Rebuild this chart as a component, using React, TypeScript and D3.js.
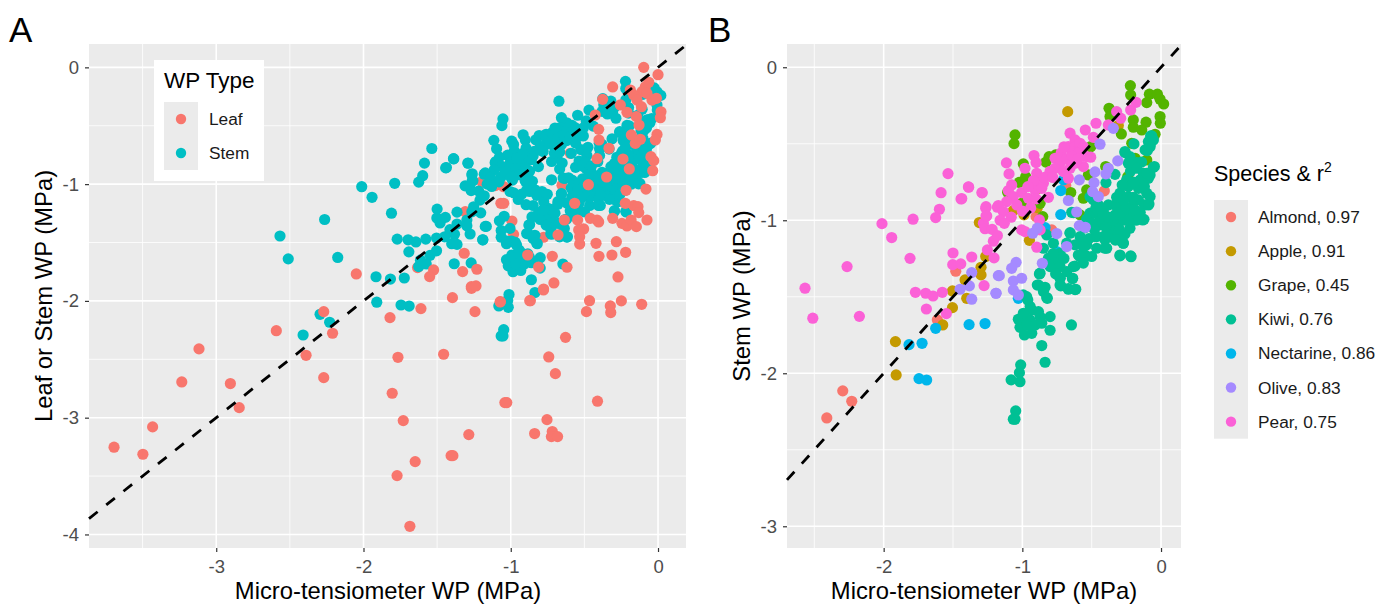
import React, { useEffect, useRef } from "react";
import * as d3 from "d3";

type Pt = [number, number];

const FONT = "'Liberation Sans', Arial, sans-serif";

const almond: Pt[] = [
  [-1.48, -1.333], [-1.613, -1.651], [-2.295, -2.115], [-2.23, -2.183], [-2.41, -2.292],
  [-0.409, -0.808], [-0.687, -0.773], [-0.901, -0.976], [-0.788, -1.063],
];

const apple: Pt[] = [
  [-1.31, -1.015], [-1.264, -1.237], [-1.298, -1.307], [-1.298, -1.357], [-1.413, -1.39],
  [-1.504, -1.462], [-1.401, -1.51], [-1.504, -1.571], [-1.574, -1.684], [-1.915, -1.793],
  [-1.91, -2.011], [-0.673, -0.29], [-0.308, -0.381], [-0.793, -0.708], [-0.892, -0.795],
  [-1.065, -0.937], [-0.988, -0.965], [-0.892, -0.917], [-0.949, -1.131],
];

const grape: Pt[] = [
  [-0.221, -0.12], [-0.219, -0.181], [-0.084, -0.176], [-0.026, -0.176], [-0.103, -0.231],
  [-0.007, -0.209], [0.019, -0.24], [-0.375, -0.268], [-0.368, -0.322], [-0.007, -0.322],
  [-0.005, -0.366], [-0.2, -0.344], [-0.2, -0.392], [-0.108, -0.359], [-0.139, -0.41],
  [-0.043, -0.438], [-0.286, -0.436], [-0.211, -0.497], [-0.103, -0.606], [-0.187, -0.595],
  [-1.053, -0.442], [-1.06, -0.499], [-0.807, -0.584], [-0.76, -0.573], [-0.993, -0.632],
  [-0.976, -0.715], [-1.021, -0.752], [-1.106, -0.817], [-1.005, -0.889], [-0.507, -0.519],
  [-0.399, -0.649], [-0.524, -0.704], [-0.56, -0.856], [-0.536, -0.802], [-0.651, -0.819],
  [-0.24, -0.715], [-0.584, -0.965], [-0.872, -0.889], [-0.853, -0.976], [-0.83, -0.62],
];

const nectarine: Pt[] = [
  [-1.625, -1.706], [-1.817, -1.813], [-1.723, -1.804], [-1.384, -1.682], [-1.269, -1.675],
  [-1.745, -2.035], [-1.69, -2.044], [-0.723, -0.806], [-0.723, -0.963], [-0.836, -1.048],
  [-0.632, -0.595], [-0.704, -0.736], [-1.029, -1.51], [-0.752, -1.205],
];

const kiwi: Pt[] = [
  [-1.012, -1.945], [-1.021, -1.996], [-1.081, -2.043], [-1.017, -2.055], [-1.048, -2.246],
  [-1.065, -2.3], [-1.053, -2.3], [-0.836, -1.928], [-0.86, -1.819], [-0.8, -1.719],
  [-0.646, -1.684], [-0.8, -1.63], [-0.985, -1.75], [-0.932, -1.739], [-1.017, -1.7],
  [-1.029, -1.647], [-0.98, -1.64], [-0.945, -1.651], [-0.908, -1.684], [-0.968, -1.684],
  [-0.932, -1.586], [-0.993, -1.608], [-0.872, -1.63], [-0.86, -1.673], [-0.884, -1.597],
  [-0.961, -1.521], [-0.993, -1.488], [-0.82, -1.51], [-0.848, -1.466], [-0.884, -1.423],
  [-0.836, -1.438], [-0.872, -1.346], [-0.728, -1.379], [-0.728, -1.423], [-0.668, -1.447],
  [-0.62, -1.453], [-0.637, -1.379], [-0.68, -1.336], [-0.075, -0.449], [-0.099, -0.545],
  [-0.079, -0.508], [-0.048, -0.649], [-0.195, -0.501], [-0.26, -0.558], [-0.175, -0.623],
  [-0.236, -0.627], [-0.332, -0.7], [-0.397, -0.754], [-0.127, -0.693], [-0.151, -0.736],
  [-0.091, -0.726], [-0.079, -0.704], [-0.248, -0.736], [-0.236, -0.78], [-0.163, -0.791],
  [-0.103, -0.823], [-0.087, -0.893], [-0.296, -0.823], [-0.236, -0.846], [-0.163, -0.867],
  [-0.272, -0.889], [-0.211, -0.911], [-0.332, -0.9], [-0.38, -0.9], [-0.416, -0.933],
  [-0.452, -0.9], [-0.488, -0.867], [-0.512, -0.846], [-0.512, -0.954], [-0.452, -0.965],
  [-0.392, -0.976], [-0.332, -0.965], [-0.272, -0.954], [-0.211, -0.965], [-0.123, -0.994],
  [-0.428, -1.031], [-0.368, -1.052], [-0.308, -1.02], [-0.224, -1.052], [-0.272, -1.0],
  [-0.476, -1.107], [-0.416, -1.107], [-0.284, -1.139], [-0.272, -1.15], [-0.332, -1.074],
  [-0.584, -1.107], [-0.572, -1.15], [-0.656, -1.085], [-0.62, -1.161], [-0.536, -1.161],
  [-0.548, -1.227], [-0.596, -1.227], [-0.464, -1.183], [-0.404, -1.183], [-0.296, -1.227],
  [-0.219, -1.233], [-0.632, -0.95], [-0.517, -0.976], [-0.536, -0.993], [-0.824, -1.096],
  [-0.848, -1.183], [-0.776, -1.15], [-0.656, -1.081], [-0.812, -1.248], [-0.728, -1.216],
  [-0.764, -1.27], [-0.8, -1.303], [-0.728, -1.303], [-0.632, -1.303], [-0.877, -1.351],
  [-0.728, -1.379], [-0.639, -1.381], [-0.723, -1.429], [-0.668, -1.451], [-0.615, -1.451],
  [-0.892, -1.423], [-0.848, -1.444], [-0.824, -1.505], [-0.969, -1.499], [-0.944, -1.564],
  [-0.56, -1.172], [-0.5, -1.237], [-0.584, -1.237], [-0.464, -1.107], [-0.392, -1.183],
  [-0.296, -1.233], [-0.216, -1.238], [-0.272, -1.15], [-0.404, -1.127], [-0.296, -1.127],
  [-0.644, -0.948],
  // filling out the dense blob
  [-0.44, -1.0], [-0.4, -1.04], [-0.35, -1.0], [-0.3, -0.95], [-0.25, -0.92], [-0.2, -0.85],
  [-0.15, -0.95], [-0.12, -0.9], [-0.18, -1.0], [-0.24, -1.0], [-0.3, -1.06], [-0.35, -1.1],
  [-0.42, -0.96], [-0.47, -0.92], [-0.5, -1.02], [-0.55, -1.05], [-0.48, -1.06], [-0.39, -1.09],
  [-0.33, -1.13], [-0.26, -1.09], [-0.2, -0.75], [-0.22, -0.68], [-0.12, -0.78], [-0.14, -0.62],
  [-0.28, -0.77], [-0.32, -0.85], [-0.38, -0.98], [-0.27, -0.87], [-0.19, -0.93], [-0.68, -1.15],
  [-0.7, -1.25], [-0.52, -1.12], [-0.62, -1.3], [-0.56, -1.28], [-0.78, -1.22], [-0.76, -1.35],
  // right-hand edge of the cloud
  [-0.067, -0.449], [-0.091, -0.486], [-0.055, -0.475], [-0.079, -0.519], [-0.115, -0.54],
  [-0.055, -0.654], [-0.103, -0.693], [-0.175, -0.66], [-0.26, -0.551], [-0.224, -0.584],
  [-0.079, -0.845], [-0.091, -0.9], [-0.132, -0.998],
];

const pear: Pt[] = [
  [-1.536, -0.695], [-1.586, -0.82], [-1.387, -0.784], [-1.442, -0.861], [-1.29, -0.821],
  [-1.598, -0.928], [-1.625, -0.983], [-1.788, -0.993], [-2.012, -1.022], [-1.942, -1.113],
  [-1.81, -1.249], [-2.264, -1.303], [-2.567, -1.444], [-2.511, -1.64], [-2.175, -1.628],
  [-1.264, -0.922], [-1.257, -0.972], [-1.281, -1.02], [-1.269, -1.055], [-1.218, -1.059],
  [-1.209, -1.137], [-1.252, -1.194], [-1.204, -1.246], [-1.365, -1.24], [-1.5, -1.214],
  [-1.502, -1.29], [-1.444, -1.285], [-1.771, -1.471], [-1.697, -1.477], [-1.644, -1.495],
  [-1.577, -1.471], [-1.692, -1.58], [-1.548, -1.61], [-1.276, -1.427], [-1.18, -0.915],
  [-0.18, -0.229], [-0.219, -0.279], [-0.32, -0.29], [-0.291, -0.333], [-0.469, -0.366],
  [-0.546, -0.41], [-0.38, -0.377], [-0.656, -0.431], [-0.488, -0.458], [-0.62, -0.475],
  [-0.668, -0.519], [-0.62, -0.519], [-0.584, -0.497], [-0.56, -0.519], [-0.644, -0.551],
  [-0.596, -0.562], [-0.536, -0.584], [-0.507, -0.588], [-0.56, -0.649], [-0.62, -0.627],
  [-0.764, -0.595], [-0.728, -0.627], [-0.764, -0.66], [-0.704, -0.682], [-0.656, -0.66],
  [-0.668, -0.725], [-0.916, -0.577], [-0.901, -0.623], [-0.896, -0.693], [-0.981, -0.66],
  [-1.115, -0.625], [-1.096, -0.697], [-1.389, -0.782], [-1.437, -0.858], [-1.291, -0.819],
  [-1.077, -0.769], [-1.101, -0.806], [-0.884, -0.747], [-0.848, -0.758], [-0.812, -0.85],
  [-0.908, -0.802], [-0.86, -0.791], [-1.005, -0.819], [-0.956, -0.856], [-1.065, -0.845],
  [-1.113, -0.878], [-1.173, -0.904], [-1.137, -0.943], [-1.262, -0.911], [-1.262, -0.972],
  [-0.896, -1.176], [-0.877, -0.998], [-1.005, -1.063], [-0.872, -1.063], [-0.981, -1.074],
  // overlapping the core of the pear cluster
  [-0.72, -0.56], [-0.68, -0.6], [-0.64, -0.58], [-0.6, -0.6], [-0.7, -0.52], [-0.8, -0.68],
  [-0.84, -0.72], [-0.78, -0.72], [-0.92, -0.74], [-0.96, -0.78], [-0.9, -0.86], [-0.94, -0.92],
  [-1.04, -0.9], [-1.0, -0.94], [-1.08, -0.98], [-1.16, -1.0], [-1.13, -1.02], [-1.18, -1.1],
];

const olive: Pt[] = [
  [-1.365, -1.342], [-1.382, -1.429], [-1.449, -1.451], [-1.365, -1.516], [-1.19, -1.477],
  [-1.173, -1.362], [-0.44, -0.503], [-0.344, -0.399], [-0.312, -0.612], [-0.38, -0.66],
  [-0.397, -0.697], [-0.476, -0.684], [-0.483, -0.754], [-0.589, -0.736], [-0.493, -0.813],
  [-0.452, -0.845], [-0.668, -0.871], [-0.608, -0.946], [-0.589, -1.035], [-0.546, -1.046],
  [-0.892, -1.052], [-0.925, -1.085], [-0.752, -1.087], [-0.68, -1.172], [-0.856, -1.281],
  [-1.045, -1.275], [-1.077, -1.314], [-1.166, -1.362], [-1.005, -1.379], [-1.065, -1.397],
  [-1.065, -1.455], [-1.029, -1.488], [-1.19, -1.477],
];

// leaf points that sit behind the stem points, then the ones in front
const leafBehind: Pt[] = [
  [-1.196, -0.979], [-1.105, -1.013], [-1.048, -1.022], [-1.309, -1.236], [-0.992, -1.316],
  [-0.981, -1.43], [-0.596, -0.736], [-0.652, -1.01], [-0.777, -1.455], [-1.633, -1.715],
];

const leafFront: Pt[] = [
  [-3.694, -3.253], [-3.498, -3.313], [-3.432, -3.079], [-3.117, -2.411], [-3.234, -2.694],
  [-2.904, -2.708], [-2.844, -2.914], [-2.592, -2.255], [-2.39, -2.466], [-2.27, -2.092],
  [-2.21, -2.277], [-2.27, -2.657], [-1.82, -2.143], [-1.61, -2.066], [-1.766, -2.483],
  [-1.805, -2.791], [-1.73, -3.025], [-1.772, -3.496], [-1.649, -3.376], [-1.685, -3.93],
  [-1.456, -2.457], [-1.405, -3.325], [-1.393, -3.325], [-1.285, -3.145], [-1.04, -2.871],
  [-1.027, -2.871], [-1.396, -1.972], [-1.267, -1.892], [-1.243, -2.092], [-1.072, -2.009],
  [-0.871, -1.998], [-0.778, -1.906], [-0.465, -1.998], [-0.486, -2.092], [-0.324, -2.043],
  [-0.321, -2.1], [-0.249, -2.0], [-0.111, -2.029], [-0.628, -2.312], [-0.742, -2.48],
  [-0.697, -2.623], [-0.411, -2.859], [-0.754, -3.017], [-0.838, -3.136], [-0.718, -3.119],
  [-0.724, -3.162], [-0.682, -3.162], [-0.097, 0], [0, -0.063], [-0.308, -0.168],
  [-0.063, -0.128], [-0.086, -0.166], [-0.109, -0.208], [-0.188, -0.194], [-0.165, -0.237],
  [-0.075, -0.223], [-0.041, -0.28], [-0.011, -0.265], [-0.376, -0.274], [-0.256, -0.322],
  [-0.426, -0.408], [-0.211, -0.385], [-0.143, -0.28], [-0.113, -0.337], [-0.147, -0.422],
  [-0.129, -0.494], [0.02, -0.38], [0.016, -0.431], [-0.403, -0.531], [-0.401, -0.622],
  [-0.007, -0.574], [-0.018, -0.622], [-0.181, -0.579], [-0.154, -0.651], [-0.12, -0.616],
  [-0.333, -0.693], [-0.048, -0.765], [-0.029, -0.799], [-0.036, -0.885], [-0.414, -0.782],
  [-0.238, -0.785], [-0.195, -0.87], [-0.349, -0.939], [-0.473, -1.005], [-0.217, -1.053],
  [-0.082, -1.042], [-0.566, -1.164], [-0.165, -1.184], [-0.136, -1.193], [-0.131, -1.244],
  [-0.075, -1.307], [-0.222, -1.164], [-0.308, -1.293], [-0.245, -1.336], [-0.211, -1.358],
  [-0.183, -1.307], [-0.147, -1.364], [-0.636, -1.307], [-0.546, -1.307], [-0.46, -1.293],
  [-0.414, -1.307], [-0.403, -1.324], [-0.505, -1.384], [-0.539, -1.393], [-0.532, -1.45],
  [-0.532, -1.513], [-0.421, -1.507], [-0.283, -1.493], [-0.401, -1.618], [-0.313, -1.607],
  [-0.22, -1.584], [-0.272, -1.795], [-0.718, -1.618], [-0.885, -1.607], [-0.811, -1.71],
  [-0.618, -1.712], [-0.707, -1.846], [-0.777, -1.898], [-0.867, -1.998], [-1.071, -2.006],
  [-0.679, -1.435], [-1.067, -1.164], [-1.048, -1.164], [-1.316, -1.592], [-1.327, -1.749],
  [-1.23, -1.729], [-1.524, -1.735], [-1.551, -1.792], [-1.268, -1.878], [-1.236, -1.872],
  [-2.049, -1.769],
];

const speciesNames = ["Almond, 0.97", "Apple, 0.91", "Grape, 0.45", "Kiwi, 0.76", "Nectarine, 0.86", "Olive, 0.83", "Pear, 0.75"];
const speciesColors = ["#F8766D", "#C49A00", "#53B400", "#00C094", "#00B6EB", "#A58AFF", "#FB61D7"];
const speciesData = [almond, apple, grape, kiwi, nectarine, olive, pear];
const drawOrder = [0, 1, 2, 4, 3, 6, 5];

const wpNames = ["Leaf", "Stem"];
const wpColors = ["#F8766D", "#00BFC4"];

const xTicksA = [-3, -2, -1, 0];
const xMinorA = [-3.5, -2.5, -1.5, -0.5];
const yTicksA = [0, -1, -2, -3, -4];
const yMinorA = [-0.5, -1.5, -2.5, -3.5];
const xTicksB = [-2, -1, 0];
const xMinorB = [-2.5, -1.5, -0.5];
const yTicksB = [0, -1, -2, -3];
const yMinorB = [-0.5, -1.5, -2.5];

const R = 5.6;

function drawPanel(root: any, o: any) {
  const { left, right, top, bottom, xDomain, yDomain, xTicks, yTicks, xMinor, yMinor } = o;
  const x = d3.scaleLinear().domain(xDomain).range([left, right]);
  const y = d3.scaleLinear().domain(yDomain).range([bottom, top]);

  root.append("rect").attr("x", left).attr("y", top).attr("width", right - left).attr("height", bottom - top).attr("fill", "#EBEBEB");

  const grid = root.append("g").attr("stroke", "#fff");
  grid.selectAll(".vm").data(xMinor).join("line").attr("x1", (d: number) => x(d)).attr("x2", (d: number) => x(d)).attr("y1", top).attr("y2", bottom).attr("stroke-width", 0.8);
  grid.selectAll(".hm").data(yMinor).join("line").attr("x1", left).attr("x2", right).attr("y1", (d: number) => y(d)).attr("y2", (d: number) => y(d)).attr("stroke-width", 0.8);
  grid.selectAll(".vj").data(xTicks).join("line").attr("x1", (d: number) => x(d)).attr("x2", (d: number) => x(d)).attr("y1", top).attr("y2", bottom).attr("stroke-width", 1.6);
  grid.selectAll(".hj").data(yTicks).join("line").attr("x1", left).attr("x2", right).attr("y1", (d: number) => y(d)).attr("y2", (d: number) => y(d)).attr("stroke-width", 1.6);

  const plot = root.append("g");
  o.layers.forEach((l: any) => {
    plot.append("g").attr("fill", l.color).selectAll("circle").data(l.points).join("circle")
      .attr("cx", (d: Pt) => x(d[0])).attr("cy", (d: Pt) => y(d[1])).attr("r", R);
  });

  const line = d3.line<number>().x((d) => x(d)).y((d) => y(d));
  const lo = Math.max(xDomain[0], yDomain[0]);
  const hi = Math.min(xDomain[1], yDomain[1]);
  root.append("path").attr("d", line([lo, hi])).attr("fill", "none").attr("stroke", "#000").attr("stroke-width", 2.8).attr("stroke-dasharray", "11 11");

  const xAxis = root.append("g").attr("transform", `translate(0,${bottom})`)
    .call(d3.axisBottom(x).tickValues(xTicks).tickFormat((d: any) => String(d)).tickSize(4).tickPadding(8));
  const yAxis = root.append("g").attr("transform", `translate(${left},0)`)
    .call(d3.axisLeft(y).tickValues(yTicks).tickFormat((d: any) => String(d)).tickSize(4).tickPadding(6));
  [xAxis, yAxis].forEach((a: any) => {
    a.select(".domain").remove();
    a.selectAll("line").attr("stroke", "#333").attr("stroke-width", 1.2);
    a.selectAll("text").attr("fill", "#4D4D4D").attr("font-size", 18.5).attr("font-family", FONT);
  });

  root.append("text").attr("x", (left + right) / 2 - o.xTitleShift).attr("y", 599).attr("text-anchor", "middle")
    .attr("font-size", 23.8).attr("font-family", FONT).text(o.xTitle);
  root.append("text").attr("transform", `translate(${o.yTitleX},${(top + bottom) / 2}) rotate(-90)`).attr("text-anchor", "middle")
    .attr("font-size", 23.8).attr("font-family", FONT).text(o.yTitle);
  root.append("text").attr("x", o.tagX).attr("y", 41.5).attr("font-size", 35).attr("font-family", FONT).text(o.tag);
}

function drawKeys(root: any, names: string[], colors: string[], keyX: number, keyY: number, labelX: number, step: number) {
  root.append("rect").attr("x", keyX).attr("y", keyY).attr("width", 34).attr("height", step * names.length).attr("fill", "#EBEBEB");
  const rows = root.selectAll(".row").data(names).join("g");
  rows.append("circle").attr("cx", keyX + 17).attr("cy", (_: string, i: number) => keyY + step * (i + 0.5)).attr("r", 5.2)
    .attr("fill", (_: string, i: number) => colors[i]);
  rows.append("text").attr("x", labelX).attr("y", (_: string, i: number) => keyY + step * (i + 0.5) + 6)
    .attr("font-size", 17.3).attr("font-family", FONT).attr("fill", "#1a1a1a").text((d: string) => d);
}

export default function App() {
  const ref = useRef<SVGSVGElement>(null);

  useEffect(() => {
    const svg = d3.select(ref.current);
    svg.selectAll("*").remove();

    const stem = drawOrder.flatMap((i) => speciesData[i]);

    drawPanel(svg.append("g"), {
      left: 89, right: 686, top: 44, bottom: 548,
      xDomain: [-3.864, 0.19], yDomain: [-4.116, 0.2],
      xTicks: xTicksA, yTicks: yTicksA, xMinor: xMinorA, yMinor: yMinorA, xTitleShift: -0.5,
      xTitle: "Micro-tensiometer WP (MPa)", yTitle: "Leaf or Stem WP (MPa)", yTitleX: 52, tagX: 9, tag: "A",
      layers: [
        { color: wpColors[0], points: leafBehind },
        { color: wpColors[1], points: stem },
        { color: wpColors[0], points: leafFront },
      ],
    });

    drawPanel(svg.append("g"), {
      left: 787, right: 1181, top: 44, bottom: 548,
      xDomain: [-2.697, 0.144], yDomain: [-3.142, 0.152],
      xTicks: xTicksB, yTicks: yTicksB, xMinor: xMinorB, yMinor: yMinorB, xTitleShift: 0,
      xTitle: "Micro-tensiometer WP (MPa)", yTitle: "Stem WP (MPa)", yTitleX: 750, tagX: 708, tag: "B",
      layers: drawOrder.map((i) => ({ color: speciesColors[i], points: speciesData[i] })),
    });

    const legA = svg.append("g");
    legA.append("rect").attr("x", 154).attr("y", 60).attr("width", 110).attr("height", 121).attr("fill", "#fff");
    legA.append("text").attr("x", 164).attr("y", 88).attr("font-size", 22.5).attr("font-family", FONT).text("WP Type");
    drawKeys(legA, wpNames, wpColors, 164, 102, 209, 34);

    const legB = svg.append("g");
    const title = legB.append("text").attr("x", 1214).attr("y", 181).attr("font-size", 21.5).attr("font-family", FONT);
    title.append("tspan").text("Species & r");
    title.append("tspan").attr("font-size", 14).attr("dy", -9).text("2");
    drawKeys(legB, speciesNames, speciesColors, 1214, 200, 1258, 34.1);
  }, []);

  return <svg ref={ref} width={1390} height={604} style={{ position: "absolute", left: 0, top: 0, background: "#fff" }} />;
}
